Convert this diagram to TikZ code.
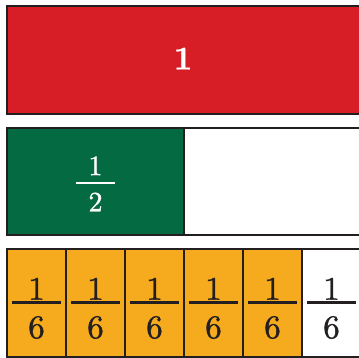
\documentclass[tikz,border=0pt]{standalone}
\usepackage{fontspec}
\newfontfamily\digfont{lmroman10-regular.otf}[FakeBold=1.2]
\newfontfamily\digbold{lmroman10-bold.otf}[FakeBold=0.6]
\definecolor{redc}{RGB}{215,30,38}
\definecolor{greenc}{RGB}{4,106,66}
\definecolor{orangec}{RGB}{246,170,30}
\definecolor{edge}{RGB}{35,31,32}
\begin{document}
\begin{tikzpicture}[x=1pt,y=-1pt,
  bar/.style={draw=edge, line width=2.2pt},
  fracbar/.style={line width=2.2pt},
  bignum/.style={inner sep=0pt, text=edge, font=\digfont\fontsize{33}{33}\selectfont},
  halfnum/.style={inner sep=0pt, text=white, font=\digfont\fontsize{28}{28}\selectfont},
  onenum/.style={inner sep=0pt, text=white, font=\digbold\fontsize{33}{33}\selectfont}]
\useasboundingbox (0,0) rectangle (359,358);
\begin{scope}
\clip (0,0) rectangle (359,358);
% whole
\fill[redc] (7,6) rectangle (361,114);
\draw[bar] (7,6) rectangle (361,114);
\node[onenum] (one) at (183,58.5) {1};
% halves
\fill[greenc] (7,128) rectangle (184,235);
\draw[bar] (7,128) rectangle (361,235);
\draw[bar] (184,128) -- (184,235);
\node[halfnum] (hn) at (95.5,165.8) {1};
\node[halfnum] (hd) at (95.5,202) {2};
\draw[fracbar, white] (76,182.7) -- (115,182.7);
% sixths
\fill[orangec] (7,249) rectangle (302,357);
\draw[bar] (7,249) rectangle (361,357);
\foreach \x in {66,125,184,243,302} {
  \draw[bar] (\x,249) -- (\x,357);
}
\foreach \i in {0,...,5} {
  \pgfmathsetmacro\cx{36.5+59*\i}
  \node[bignum] (n\i) at (\cx,288.8) {1};
  \node[bignum] (d\i) at (\cx,327.5) {6};
  \draw[fracbar, edge] (\cx-24.5,302.5) -- (\cx+24.5,302.5);
}
\end{scope}
\end{tikzpicture}
\end{document}
